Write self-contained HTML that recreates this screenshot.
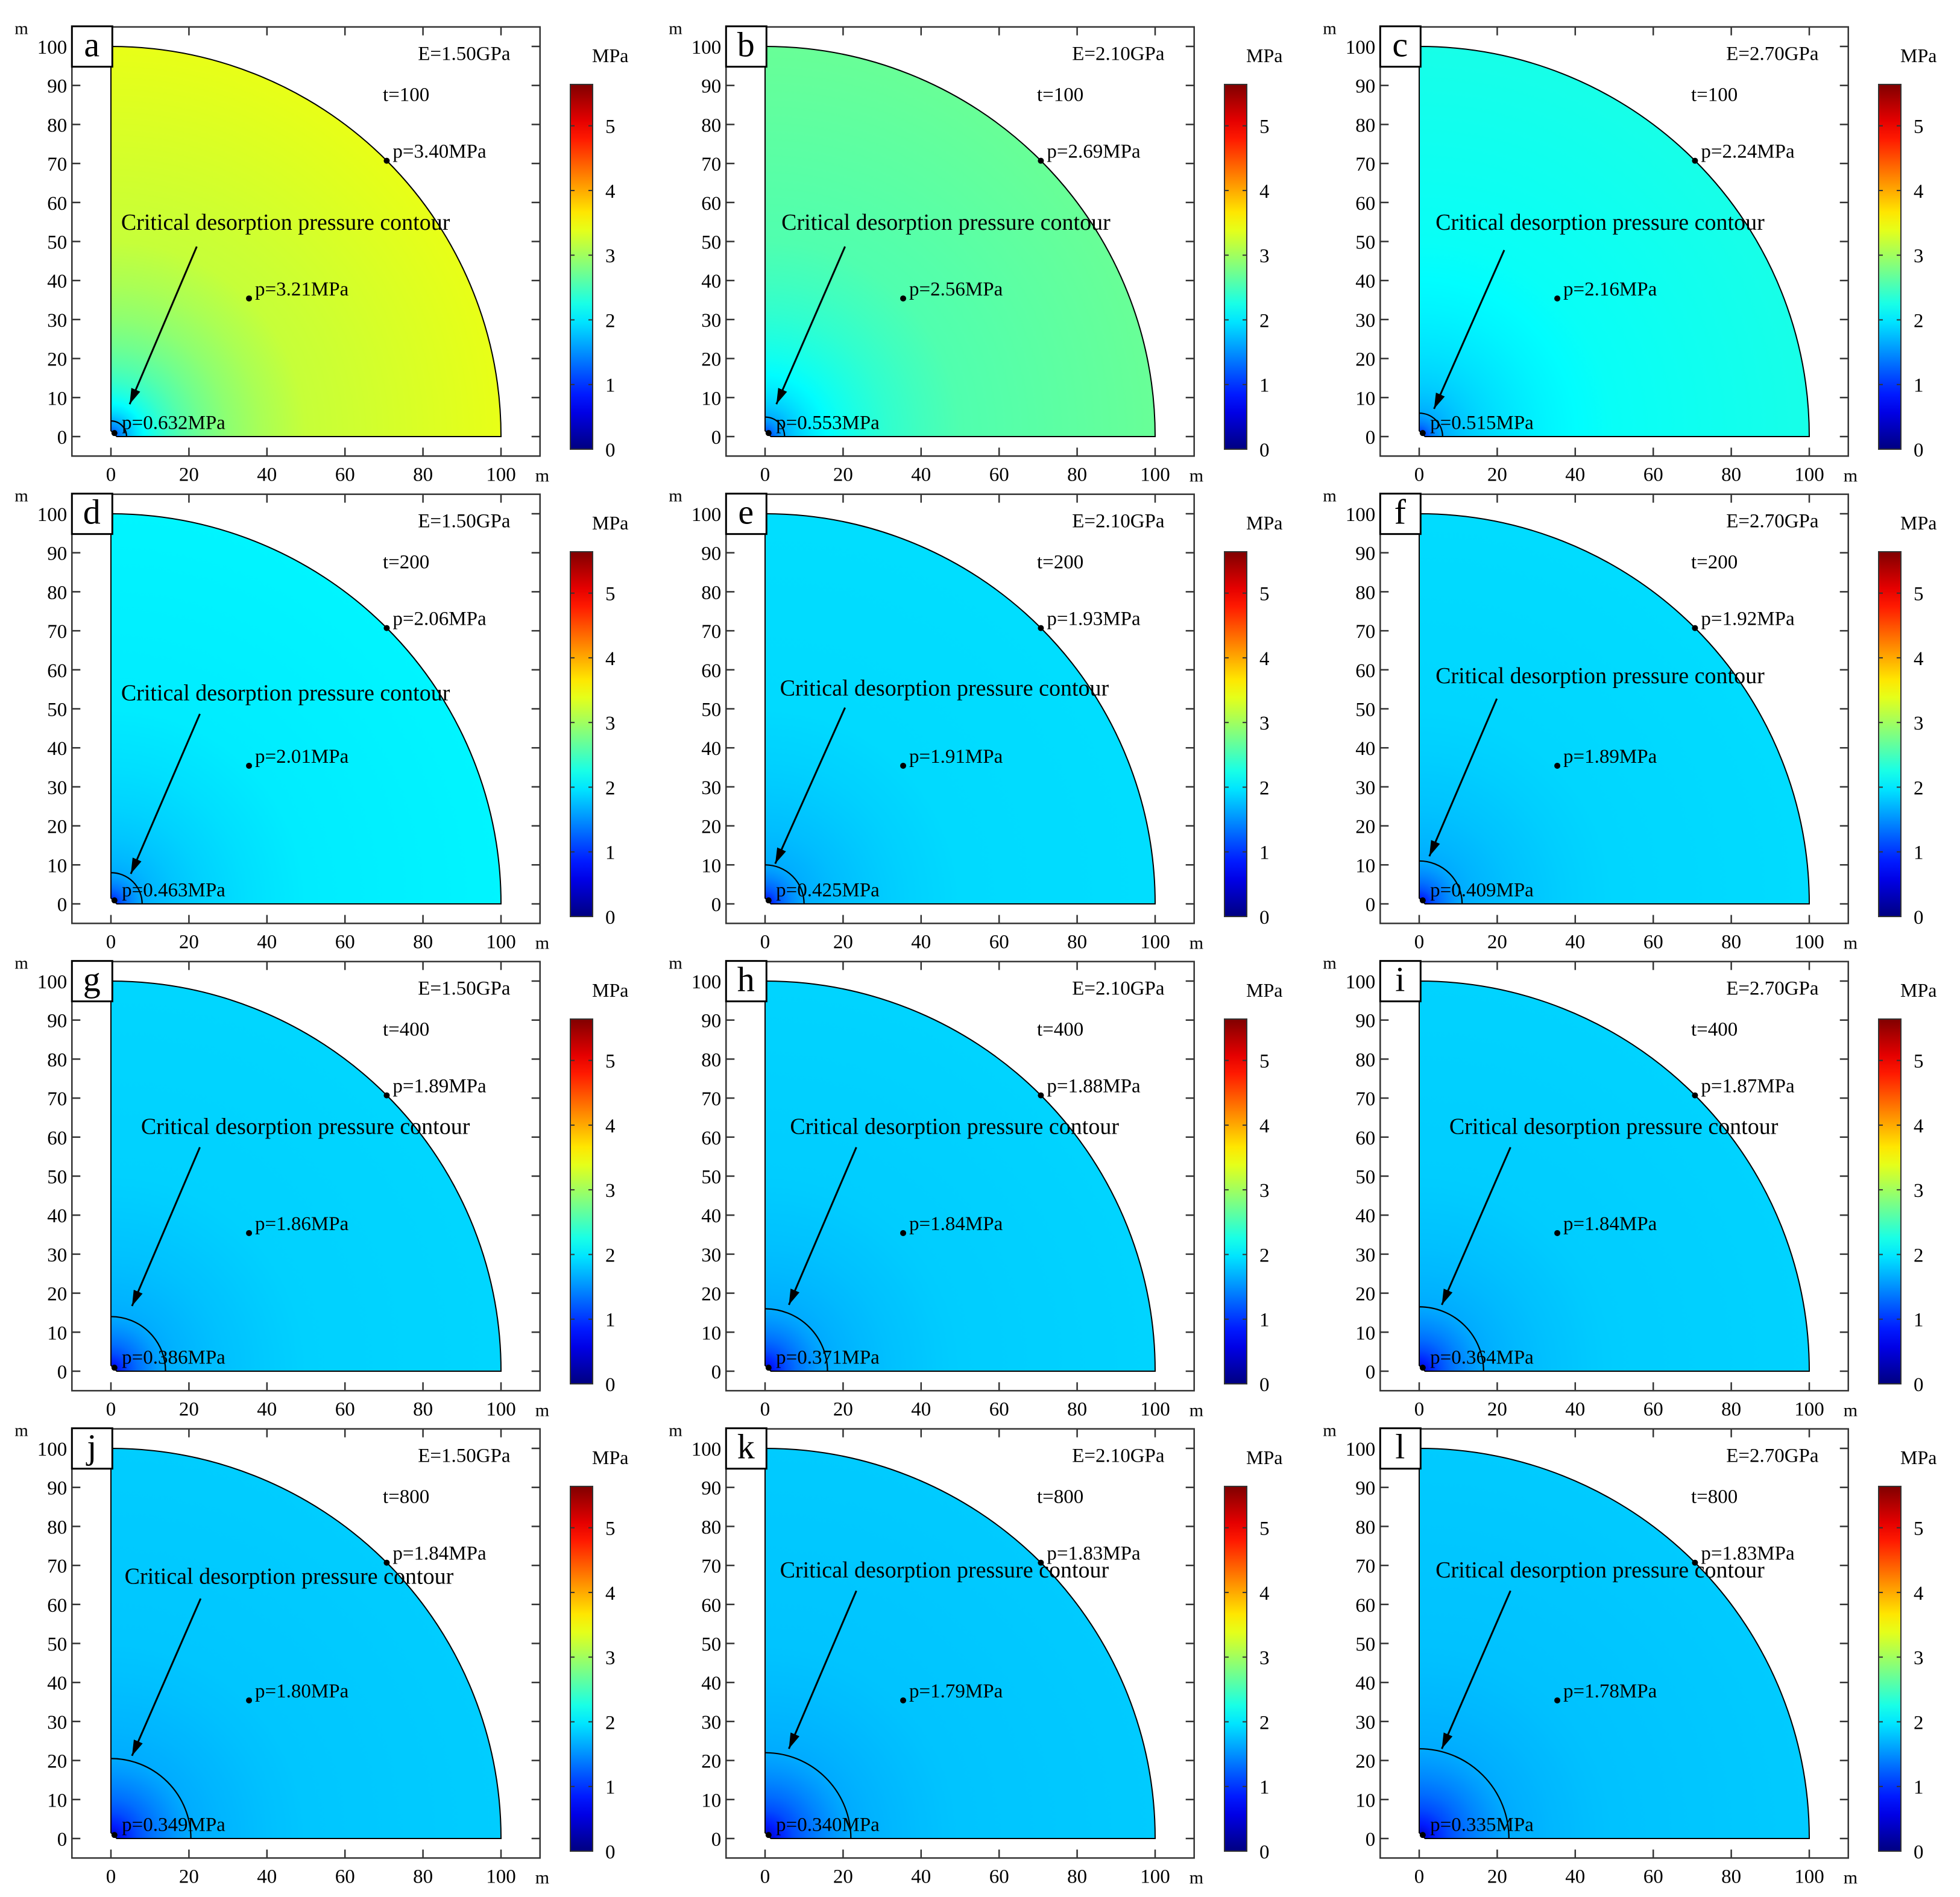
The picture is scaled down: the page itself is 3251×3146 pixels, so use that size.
<!DOCTYPE html>
<html><head><meta charset="utf-8"><style>
html,body{margin:0;padding:0;background:#fff;}
svg{display:block;font-family:"Liberation Serif",serif;}
</style></head><body>
<svg id="fig" width="3251" height="3146" viewBox="0 0 3251 3146" xmlns="http://www.w3.org/2000/svg"></svg>
<script>
const panelLetters = ["a","b","c","d","e","f","g","h","i","j","k","l"];
const modulus = ["1.50","2.10","2.70","1.50","2.10","2.70","1.50","2.10","2.70","1.50","2.10","2.70"];
const times = ["100","100","100","200","200","200","400","400","400","800","800","800"];
const pEdge = [3.40,2.69,2.24,2.06,1.93,1.92,1.89,1.88,1.87,1.84,1.83,1.83];
const pMid = [3.21,2.56,2.16,2.01,1.91,1.89,1.86,1.84,1.84,1.80,1.79,1.78];
const pMin = [0.632,0.553,0.515,0.463,0.425,0.409,0.386,0.371,0.364,0.349,0.340,0.335];
const pMinLabel = ["0.632","0.553","0.515","0.463","0.425","0.409","0.386","0.371","0.364","0.349","0.340","0.335"];
const contourR = [4,5,6,8,10,11,14,16,16.5,20.5,22,23];
const noteX = [2.6,4.2,4.2,2.6,3.8,4.2,7.7,6.4,7.7,3.5,3.8,4.2];
const noteY = [55,55,55,54.2,55.4,58.6,62.8,62.8,62.8,67.3,68.9,68.9];
const arrowStart = [[22,48.7],[20.5,48.7],[21.8,47.8],[22.8,48.7],[20.5,50.3],[19.9,52.6],[22.8,57.4],[23.4,57.4],[23.4,57.4],[23,61.5],[23.4,63.5],[23.4,63.5]];
const arrowEnd = [[4.8,8.3],[2.9,8.3],[3.8,7.1],[5.1,7.7],[2.6,10.3],[2.6,12.2],[5.4,16.7],[6.1,17],[5.8,17],[5.4,21.2],[6.1,23],[5.8,23]];
const xTicks = [0,20,40,60,80,100];
const yTicks = [0,10,20,30,40,50,60,70,80,90,100];
const cbTicks = [0,1,2,3,4,5];
const cbMax = 5.64;
const critP = 1.65;

const NS = "http://www.w3.org/2000/svg";
const svg = document.getElementById("fig");
const S = 6.47;
function jet(v){
  const x = Math.max(0, Math.min(1, v / cbMax));
  const c = t => Math.round(255 * Math.max(0, Math.min(1, 1.5 - Math.abs(4 * x - t))));
  return `rgb(${c(3)},${c(2)},${c(1)})`;
}
function mk(tag, attrs, parent){
  const e = document.createElementNS(NS, tag);
  for (const k in attrs) e.setAttribute(k, attrs[k]);
  (parent || svg).appendChild(e);
  return e;
}
const defs = mk("defs", {});
const cbg = mk("linearGradient", {id:"cbg", x1:"0", y1:"1", x2:"0", y2:"0"}, defs);
for (let i = 0; i <= 20; i++){
  mk("stop", {offset: i/20, "stop-color": jet(cbMax * i / 20)}, cbg);
}
const mkr = mk("marker", {id:"ah", markerWidth:"30", markerHeight:"30", refX:"12", refY:"0", orient:"auto", markerUnits:"userSpaceOnUse", viewBox:"-14 -12 30 24"}, defs);
mk("path", {d:"M-14,-8 L12,0 L-14,8 Z", fill:"#000"}, mkr);

for (let i = 0; i < 12; i++){
  const col = i % 3, row = Math.floor(i / 3);
  const ox = 184 + col * 1085, oy = 724 + row * 775;
  const X = v => ox + v * S, Y = v => oy - v * S;
  const g = mk("g", {});
  
  
  const rc = contourR[i];
  const rg = mk("radialGradient", {id:"rg"+i, gradientUnits:"userSpaceOnUse", cx:X(0), cy:Y(0), r:100*S, fx:X(0), fy:Y(0)}, defs);
  mk("stop", {offset:0, "stop-color": jet(pMin[i])}, rg);
  for (let k = 1; k <= 6; k++){
    const rr = rc * k / 6;
    const v = pMin[i] + (critP - pMin[i]) * Math.log(1 + 9 * k / 6) / Math.log(10);
    mk("stop", {offset:rr/100, "stop-color": jet(v)}, rg);
  }
  for (let k = 1; k <= 10; k++){
    const rr = rc * Math.pow(50 / rc, k / 10);
    const v = critP + (pMid[i] - critP) * k / 10;
    mk("stop", {offset:rr/100, "stop-color": jet(v)}, rg);
  }
  mk("stop", {offset:1, "stop-color": jet(pEdge[i])}, rg);
  const q = mk("path", {d:`M${X(0)},${Y(100)} A${100*S},${100*S} 0 0 1 ${X(100)},${Y(0)} L${X(1.5)},${Y(0)} L${X(0)},${Y(1.5)} Z`, fill:`url(#rg${i})`, stroke:"#000", "stroke-width":2}, g);
  
  
  const c = mk("path", {d:`M${X(0)},${Y(rc)} A${rc*S},${rc*S} 0 0 1 ${X(rc)},${Y(0)}`, fill:"none", stroke:"#000", "stroke-width":2.2}, g);
  
  
  const fx0 = X(-10), fx1 = X(110), fy0 = Y(105), fy1 = Y(-5);
  const fr = mk("rect", {x:fx0, y:fy0, width:fx1-fx0, height:fy1-fy0, fill:"none", stroke:"#333", "stroke-width":2.5}, g);
  
  
  for (const t of xTicks){
    mk("line", {x1:X(t), x2:X(t), y1:fy1, y2:fy1-14, stroke:"#333", "stroke-width":2.5}, g);
    mk("line", {x1:X(t), x2:X(t), y1:fy0, y2:fy0+14, stroke:"#333", "stroke-width":2.5}, g);
    const tl = mk("text", {x:X(t), y:fy1+41, "font-size":33, "text-anchor":"middle"}, g);
    tl.textContent = t;
    
    
  }
  for (const t of yTicks){
    mk("line", {x1:fx0, x2:fx0+14, y1:Y(t), y2:Y(t), stroke:"#333", "stroke-width":2.5}, g);
    mk("line", {x1:fx1, x2:fx1-14, y1:Y(t), y2:Y(t), stroke:"#333", "stroke-width":2.5}, g);
    const tl = mk("text", {x:fx0-8, y:Y(t)+12, "font-size":33, "text-anchor":"end"}, g);
    tl.textContent = t;
    
    
  }
  const mx = mk("text", {x:fx1-8, y:fy1+42, "font-size":30}, g); mx.textContent = "m";
   
  const my = mk("text", {x:fx0-95, y:fy0+12, "font-size":29}, g); my.textContent = "m";
   
  const lb = mk("rect", {x:fx0, y:fy0-1, width:67, height:67, fill:"#fff", stroke:"#000", "stroke-width":3}, g);
   
  const lt = mk("text", {x:fx0+33, y:fy0+49, "font-size":58, "text-anchor":"middle"}, g); lt.textContent = panelLetters[i];
   
  const et = mk("text", {x:X(78.7), y:Y(96.5), "font-size":33}, g); et.textContent = "E=" + modulus[i] + "GPa";
   
  const tt = mk("text", {x:X(69.7), y:Y(86), "font-size":33}, g); tt.textContent = "t=" + times[i];
   
  mk("circle", {cx:X(70.7), cy:Y(70.7), r:5, fill:"#000"}, g);
  mk("circle", {cx:X(35.4), cy:Y(35.4), r:5, fill:"#000"}, g);
  mk("circle", {cx:X(0.9), cy:Y(0.9), r:5, fill:"#000"}, g);
  const p1 = mk("text", {x:X(70.7)+10, y:Y(70.7)-5, "font-size":33}, g); p1.textContent = "p=" + pEdge[i].toFixed(2) + "MPa";
   
  const p2 = mk("text", {x:X(35.4)+10, y:Y(35.4)-5, "font-size":33}, g); p2.textContent = "p=" + pMid[i].toFixed(2) + "MPa";
   
  const p3 = mk("text", {x:X(2.8), y:Y(1.9), "font-size":33}, g); p3.textContent = "p=" + pMinLabel[i] + "MPa";
   
  const nt = mk("text", {x:X(noteX[i]), y:Y(noteY[i])+13, "font-size":38}, g); nt.textContent = "Critical desorption pressure contour";
   
  const ar = mk("line", {x1:X(arrowStart[i][0]), y1:Y(arrowStart[i][1]), x2:X(arrowEnd[i][0]), y2:Y(arrowEnd[i][1]), stroke:"#000", "stroke-width":3, "marker-end":"url(#ah)"}, g);
   
  const cbx = ox + 762, cbTop = oy - 584, cbBot = oy + 21, cbH = cbBot - cbTop;
  const CB = v => cbBot - v / cbMax * cbH;
  const cb = mk("rect", {x:cbx, y:cbTop, width:37, height:cbH, fill:"url(#cbg)", stroke:"#333", "stroke-width":2}, g);
   
  for (const t of cbTicks){
    mk("line", {x1:cbx, x2:cbx+7, y1:CB(t), y2:CB(t), stroke:"#333", "stroke-width":2}, g);
    mk("line", {x1:cbx+37, x2:cbx+30, y1:CB(t), y2:CB(t), stroke:"#333", "stroke-width":2}, g);
    const cl = mk("text", {x:cbx+58, y:CB(t)+12, "font-size":33}, g); cl.textContent = t;
     
  }
  const cu = mk("text", {x:cbx+36, y:Y(96), "font-size":32}, g); cu.textContent = "MPa";
   
}
</script>
</body></html>
